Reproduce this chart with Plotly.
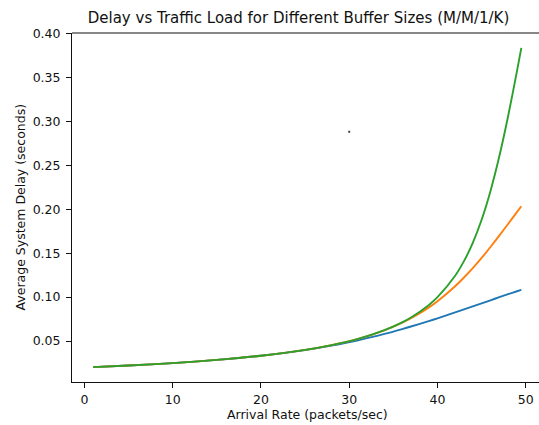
import plotly.graph_objects as go

# Arrival rates (packets/sec)
arrival_rate = [1, 5, 10, 15, 20, 25, 28, 31, 34, 36, 37, 39, 40, 42, 43, 44, 45, 46, 47, 48, 49, 49.5]

# Average system delay (seconds) for each buffer size
delay_k10 = [0.0204, 0.0222, 0.0250, 0.0286, 0.0333, 0.0398, 0.0449, 0.0509, 0.0582, 0.0637, 0.0666,
             0.0727, 0.0759, 0.0826, 0.0860, 0.0895, 0.0929, 0.0964, 0.0999, 0.1033, 0.1067, 0.1083]
delay_k20 = [0.0204, 0.0222, 0.0250, 0.0286, 0.0333, 0.0400, 0.0455, 0.0526, 0.0623, 0.0709, 0.0760,
             0.0881, 0.0953, 0.1124, 0.1223, 0.1330, 0.1446, 0.1570, 0.1699, 0.1832, 0.1966, 0.2033]
delay_k40 = [0.0204, 0.0222, 0.0250, 0.0286, 0.0333, 0.0400, 0.0455, 0.0526, 0.0625, 0.0714, 0.0769,
             0.0909, 0.0999, 0.1243, 0.1409, 0.1618, 0.1880, 0.2205, 0.2598, 0.3057, 0.3567, 0.3834]

series_names = ["K=10", "K=20", "K=40"]
series_colors = ["#1f77b4", "#ff7f0e", "#2ca02c"]

# stray speck visible in the reference
speck_x = [30]
speck_y = [0.288]

x_ticks = [0, 10, 20, 30, 40, 50]
y_ticks = [0.05, 0.10, 0.15, 0.20, 0.25, 0.30, 0.35, 0.40]

FONT = "DejaVu Sans, Liberation Sans, sans-serif"
W, H = 539, 425
L, R, T, B = 72, 0, 33, 43

fig = go.Figure()
for name, ys, col in zip(series_names, [delay_k10, delay_k20, delay_k40], series_colors):
    fig.add_trace(go.Scatter(x=arrival_rate, y=ys, mode="lines", name=name,
                             line=dict(color=col, width=1.9, shape="spline", smoothing=0.8)))
fig.add_trace(go.Scatter(x=speck_x, y=speck_y, mode="markers",
                         marker=dict(color="#444", size=2, symbol="square"), showlegend=False))

fig.update_layout(
    width=W, height=H,
    margin=dict(l=L, r=R, t=T, b=B, pad=0),
    paper_bgcolor="white", plot_bgcolor="white",
    showlegend=False,
    font=dict(family=FONT, size=12.5, color="#111"),
    title=dict(text="Delay vs Traffic Load for Different Buffer Sizes (M/M/1/K)",
               x=(298.5 - L) / (W - L), xref="paper", xanchor="center",
               y=1 - 18 / H, yref="container", yanchor="middle",
               font=dict(family=FONT, size=15, color="#111")),
    xaxis=dict(range=[-1.4, 51.5], tickvals=x_ticks, ticks="outside", ticklen=5, tickwidth=1,
               tickcolor="#111", showline=True, linecolor="#111", linewidth=1, showgrid=False,
               zeroline=False, tickfont=dict(size=12.5), ticklabelstandoff=1),
    yaxis=dict(range=[0.0035, 0.4003], tickvals=y_ticks, tickformat=".2f", ticks="outside",
               ticklen=5, tickwidth=1, tickcolor="#111", showline=True, linecolor="#111",
               linewidth=1, showgrid=False, zeroline=False, tickfont=dict(size=12.5),
               ticklabelstandoff=3),
    shapes=[dict(type="line", xref="paper", yref="paper", x0=0, x1=1, y0=1, y1=1,
                 line=dict(color="#111", width=1))],
    annotations=[
        dict(text="Arrival Rate (packets/sec)", xref="paper", yref="paper",
             x=(307 - L) / (W - L), y=0, yshift=-(414.5 - (H - B)), xanchor="center", yanchor="middle",
             showarrow=False, font=dict(size=12.5)),
        dict(text="Average System Delay (seconds)", xref="paper", yref="paper",
             x=0, xshift=20 - L, y=0.5, xanchor="center", yanchor="middle", textangle=-90,
             showarrow=False, font=dict(size=12.5)),
    ],
)

fig.write_html("out.html", config={"displayModeBar": False},
               post_script="document.body.style.margin='0';document.body.style.overflow='hidden';")
